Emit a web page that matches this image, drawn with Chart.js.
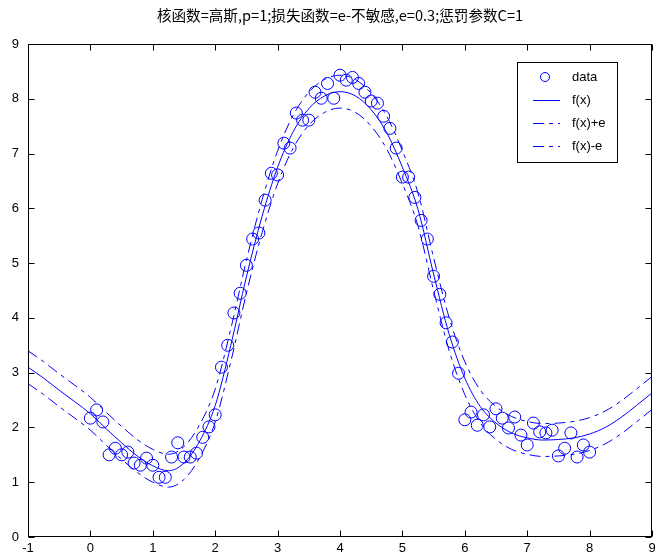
<!DOCTYPE html>
<html>
<head>
<meta charset="utf-8">
<script src="https://cdn.jsdelivr.net/npm/chart.js@4.4.0/dist/chart.umd.min.js"></script>
<style>
    html, body { margin: 0; padding: 0; background: #fff; }
</style>
</head>
<body>
<canvas id="myChart" width="659" height="560"></canvas>
<script>
// Dados de treino (x = 0:0.1:8)
const dataX = [0.0, 0.1, 0.2, 0.3, 0.4, 0.5, 0.6, 0.7, 0.8, 0.9,
    1.0, 1.1, 1.2, 1.3, 1.4, 1.5, 1.6, 1.7, 1.8, 1.9,
    2.0, 2.1, 2.2, 2.3, 2.4, 2.5, 2.6, 2.7, 2.8, 2.9,
    3.0, 3.1, 3.2, 3.3, 3.4, 3.5, 3.6, 3.7, 3.8, 3.9,
    4.0, 4.1, 4.2, 4.3, 4.4, 4.5, 4.6, 4.7, 4.8, 4.9,
    5.0, 5.1, 5.2, 5.3, 5.4, 5.5, 5.6, 5.7, 5.8, 5.9,
    6.0, 6.1, 6.2, 6.3, 6.4, 6.5, 6.6, 6.7, 6.8, 6.9,
    7.0, 7.1, 7.2, 7.3, 7.4, 7.5, 7.6, 7.7, 7.8, 7.9, 8.0];
const dataY = [2.17, 2.32, 2.10, 1.50, 1.62, 1.50, 1.55, 1.35, 1.31, 1.44,
    1.31, 1.09, 1.09, 1.46, 1.72, 1.46, 1.46, 1.53, 1.82, 2.01,
    2.23, 3.10, 3.50, 4.09, 4.45, 4.96, 5.44, 5.55, 6.15, 6.64,
    6.61, 7.19, 7.10, 7.74, 7.61, 7.61, 8.12, 8.01, 8.28, 8.01,
    8.43, 8.34, 8.39, 8.28, 8.12, 7.96, 7.92, 7.68, 7.46, 7.10,
    6.57, 6.57, 6.20, 5.78, 5.44, 4.76, 4.43, 3.91, 3.56, 2.99,
    2.14, 2.28, 2.04, 2.23, 2.01, 2.34, 2.17, 1.99, 2.19, 1.86,
    1.68, 2.08, 1.92, 1.90, 1.95, 1.48, 1.62, 1.90, 1.46, 1.68, 1.55];

// Curva de regressão f(x) e as faixas f(x)+e, f(x)-e
const curveX = [-1.00, -0.75, -0.50, -0.25, 0.00, 0.25, 0.50, 0.75, 1.00, 1.25,
    1.50, 1.75, 2.00, 2.25, 2.50, 2.75, 3.00, 3.25, 3.50, 3.75,
    4.00, 4.25, 4.50, 4.75, 5.00, 5.25, 5.50, 5.75, 6.00, 6.25,
    6.50, 6.75, 7.00, 7.25, 7.50, 7.75, 8.00, 8.25, 8.50, 8.75, 9.00];
const fx = [3.10, 2.90, 2.68, 2.47, 2.25, 1.98, 1.72, 1.48, 1.30, 1.21,
    1.35, 1.75, 2.40, 3.50, 4.75, 5.85, 6.75, 7.40, 7.82, 8.05,
    8.13, 8.05, 7.80, 7.38, 6.75, 5.98, 4.80, 3.70, 2.90, 2.38,
    2.08, 1.90, 1.81, 1.77, 1.78, 1.81, 1.88, 2.00, 2.18, 2.40, 2.63];
const fxUpper = [3.40, 3.20, 2.98, 2.77, 2.55, 2.28, 2.02, 1.78, 1.60, 1.51,
    1.65, 2.05, 2.70, 3.80, 5.05, 6.15, 7.05, 7.70, 8.12, 8.35,
    8.43, 8.35, 8.10, 7.68, 7.05, 6.28, 5.10, 4.00, 3.20, 2.68,
    2.38, 2.20, 2.11, 2.07, 2.08, 2.11, 2.18, 2.30, 2.48, 2.70, 2.93];
const fxLower = [2.80, 2.60, 2.38, 2.17, 1.95, 1.68, 1.42, 1.18, 1.00, 0.91,
    1.05, 1.45, 2.10, 3.20, 4.45, 5.55, 6.45, 7.10, 7.52, 7.75,
    7.83, 7.75, 7.50, 7.08, 6.45, 5.68, 4.50, 3.40, 2.60, 2.08,
    1.78, 1.60, 1.51, 1.47, 1.48, 1.51, 1.58, 1.70, 1.88, 2.10, 2.33];

const legendLabels = ['data', 'f(x)', 'f(x)+e', 'f(x)-e'];
const titleText = '核函数=高斯,p=1;损失函数=e-不敏感,e=0.3;惩罚参数C=1';

const blue = '#0000ff';
const dashPattern = [11, 5, 4, 5];

function toPoints(xs, ys) {
    return xs.map((x, i) => ({ x: x, y: ys[i] }));
}

// Ticks para dentro e caixa em volta (estilo MATLAB)
const axisBox = {
    id: 'axisBox',
    afterDatasetsDraw(chart) {
        const { ctx, chartArea: a, scales: { x, y } } = chart;
        const L = Math.round(a.left) + 0.5, R = Math.round(a.right) - 0.5;
        const T = Math.round(a.top) + 0.5, B = Math.round(a.bottom) - 0.5;
        ctx.save();
        ctx.strokeStyle = '#000';
        ctx.lineWidth = 1;
        ctx.setLineDash([]);
        ctx.beginPath();
        x.ticks.forEach(t => {
            const px = Math.round(x.getPixelForValue(t.value)) + 0.5;
            ctx.moveTo(px, B); ctx.lineTo(px, B - 6);
            ctx.moveTo(px, T); ctx.lineTo(px, T + 6);
        });
        y.ticks.forEach(t => {
            const py = Math.round(y.getPixelForValue(t.value)) + 0.5;
            ctx.moveTo(L, py); ctx.lineTo(L + 6, py);
            ctx.moveTo(R, py); ctx.lineTo(R - 6, py);
        });
        ctx.stroke();
        ctx.strokeRect(L, T, R - L, B - T);
        ctx.restore();
    }
};

// Legenda desenhada dentro do gráfico
const legendBox = {
    id: 'legendBox',
    afterDraw(chart) {
        const ctx = chart.ctx;
        const rows = [77, 100, 123, 146];
        ctx.save();
        ctx.fillStyle = '#fff';
        ctx.fillRect(517.5, 62.5, 100, 100);
        ctx.strokeStyle = '#000';
        ctx.lineWidth = 1;
        ctx.strokeRect(517.5, 62.5, 100, 100);
        ctx.strokeStyle = blue;
        // marcador circular
        ctx.beginPath();
        ctx.arc(545, rows[0], 4.5, 0, Math.PI * 2);
        ctx.stroke();
        // linhas
        ctx.beginPath();
        ctx.moveTo(533, rows[1] + 0.5); ctx.lineTo(560, rows[1] + 0.5);
        ctx.stroke();
        ctx.setLineDash(dashPattern);
        [rows[2], rows[3]].forEach(r => {
            ctx.beginPath();
            ctx.moveTo(533, r + 0.5); ctx.lineTo(560, r + 0.5);
            ctx.stroke();
        });
        ctx.setLineDash([]);
        ctx.fillStyle = '#000';
        ctx.font = '13px "Liberation Sans", Arial, sans-serif';
        ctx.textBaseline = 'middle';
        legendLabels.forEach((lbl, i) => ctx.fillText(lbl, 572, rows[i]));
        ctx.restore();
    }
};

const ctx = document.getElementById('myChart').getContext('2d');
const myChart = new Chart(ctx, {
    type: 'scatter',
    data: {
        datasets: [{
            label: legendLabels[0],
            data: toPoints(dataX, dataY),
            showLine: false,
            pointStyle: 'circle',
            pointRadius: 6,
            pointBorderWidth: 1,
            pointBorderColor: blue,
            pointBackgroundColor: 'rgba(0,0,0,0)'
        }, {
            label: legendLabels[1],
            data: toPoints(curveX, fx),
            showLine: true,
            borderColor: blue,
            borderWidth: 1,
            pointRadius: 0,
            cubicInterpolationMode: 'monotone'
        }, {
            label: legendLabels[2],
            data: toPoints(curveX, fxUpper),
            showLine: true,
            borderColor: blue,
            borderWidth: 1,
            borderDash: dashPattern,
            pointRadius: 0,
            cubicInterpolationMode: 'monotone'
        }, {
            label: legendLabels[3],
            data: toPoints(curveX, fxLower),
            showLine: true,
            borderColor: blue,
            borderWidth: 1,
            borderDash: dashPattern,
            pointRadius: 0,
            cubicInterpolationMode: 'monotone'
        }]
    },
    options: {
        responsive: false,
        animation: false,
        devicePixelRatio: 1,
        layout: { padding: { left: 0, right: 6, top: 0, bottom: 0 } },
        plugins: {
            legend: { display: false },
            tooltip: { enabled: false },
            title: {
                display: true,
                text: titleText,
                fullSize: false,
                color: '#000',
                font: { family: '"Noto Sans CJK SC", sans-serif', size: 14.6, weight: 'normal', lineHeight: 1.2 },
                padding: { top: 7, bottom: 19.5 }
            }
        },
        scales: {
            x: {
                type: 'linear',
                min: -1,
                max: 9,
                ticks: {
                    stepSize: 1,
                    color: '#000',
                    padding: 4,
                    maxRotation: 0,
                    font: { family: '"Liberation Sans", Arial, sans-serif', size: 13 }
                },
                grid: { display: false, drawTicks: false },
                border: { display: false },
                afterFit(s) { s.height = 23; s.paddingLeft = 0; s.paddingRight = 0; }
            },
            y: {
                type: 'linear',
                min: 0,
                max: 9,
                ticks: {
                    stepSize: 1,
                    color: '#000',
                    padding: 9,
                    font: { family: '"Liberation Sans", Arial, sans-serif', size: 13 }
                },
                grid: { display: false, drawTicks: false },
                border: { display: false },
                afterFit(s) { s.width = 28; s.paddingTop = 0; s.paddingBottom = 0; }
            }
        }
    },
    plugins: [axisBox, legendBox]
});
</script>
</body>
</html>
